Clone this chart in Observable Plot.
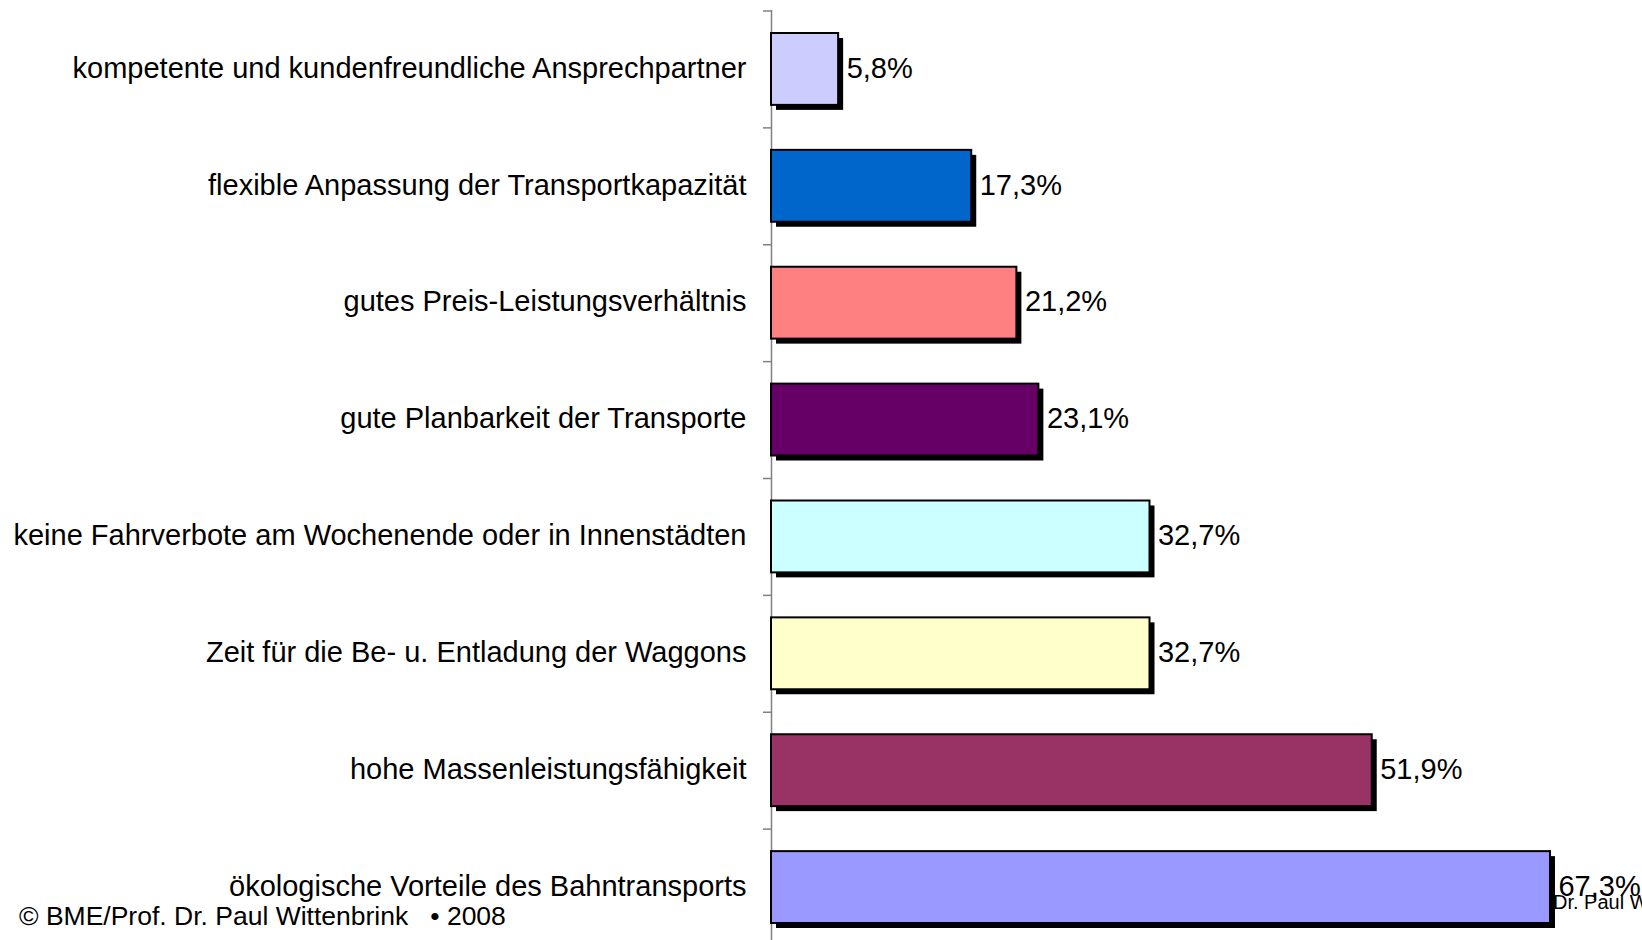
<!DOCTYPE html>
<html><head><meta charset="utf-8">
<script src="https://cdn.jsdelivr.net/npm/d3@7"></script>
<script src="https://cdn.jsdelivr.net/npm/@observablehq/plot@0.6"></script>
<style>
body{margin:0;background:#fff;}
#wrap{position:relative;width:1642px;height:940px;overflow:hidden;font-family:"Liberation Sans",Arial,sans-serif;background:#fff;}
</style></head><body>
<div id="wrap"></div>
<script>
const categories = [
  "kompetente und kundenfreundliche Ansprechpartner",
  "flexible Anpassung der Transportkapazität",
  "gutes Preis-Leistungsverhältnis",
  "gute Planbarkeit der Transporte",
  "keine Fahrverbote am Wochenende oder in Innenstädten",
  "Zeit für die Be- u. Entladung der Waggons",
  "hohe Massenleistungsfähigkeit",
  "ökologische Vorteile des Bahntransports"
];
const values = [5.8, 17.3, 21.2, 23.1, 32.7, 32.7, 51.9, 67.3];
const valueLabels = ["5,8%", "17,3%", "21,2%", "23,1%", "32,7%", "32,7%", "51,9%", "67,3%"];
const colors = ["#CCCCFF", "#0066CC", "#FF8080", "#660066", "#CCFFFF", "#FFFFCC", "#993366", "#9999FF"];
const footerLeft = "© BME/Prof. Dr. Paul Wittenbrink   • 2008";
const footerRight = "Dr. Paul Wittenbrink";

const data = categories.map((c, i) => ({category: c, value: values[i], label: valueLabels[i]}));
const yRange = [10.5, 945.5];
const step = (yRange[1] - yRange[0]) / categories.length;
const font = "'Liberation Sans', Arial, sans-serif";

const chart = Plot.plot({
  width: 1642, height: 940,
  marginLeft: 771, marginRight: 0, marginTop: 10, marginBottom: 0,
  style: {fontFamily: font, fontSize: "29px", color: "#000", background: "transparent", overflow: "visible"},
  x: {domain: [0, 75.25], axis: null},
  y: {domain: categories, range: yRange, paddingInner: 0.385, paddingOuter: 0.1925, round: false, axis: null},
  color: {domain: categories, range: colors},
  marks: [
    Plot.ruleX([0], {stroke: "#808080", strokeWidth: 1.5}),
    Plot.axisY({tickSize: 8, tickFormat: () => "", dy: -step / 2, stroke: "#808080", strokeWidth: 1.5, label: null}),
    Plot.barX(data, {x: "value", y: "category", fill: "#000", dx: 5, dy: 5}),
    Plot.barX(data, {x: "value", y: "category", fill: "category", stroke: "#000", strokeWidth: 2}),
    Plot.text(data, {x: 0, y: "category", text: "category", textAnchor: "end", dx: -25, dy: -1, fontSize: 29, fill: "#000"}),
    Plot.text(data, {x: "value", y: "category", text: "label", textAnchor: "start", dx: 8, dy: -1, fontSize: 29, fill: "#000"})
  ]
});
const wrap = document.getElementById("wrap");
wrap.appendChild(chart);
chart.style.position = "absolute";
chart.style.left = "0px";
chart.style.top = "0px";

const overlay = d3.select(wrap).append("svg")
  .attr("width", 1642).attr("height", 940)
  .style("position", "absolute").style("left", "0px").style("top", "0px")
  .style("font-family", font);
overlay.append("text")
  .attr("x", 19).attr("y", 925)
  .attr("font-size", 26.5).attr("fill", "#000")
  .attr("xml:space", "preserve").style("white-space", "pre")
  .text(footerLeft);
overlay.append("text")
  .attr("x", 1553).attr("y", 909)
  .attr("font-size", 20).attr("fill", "#000")
  .text(footerRight);
</script>
</body></html>
